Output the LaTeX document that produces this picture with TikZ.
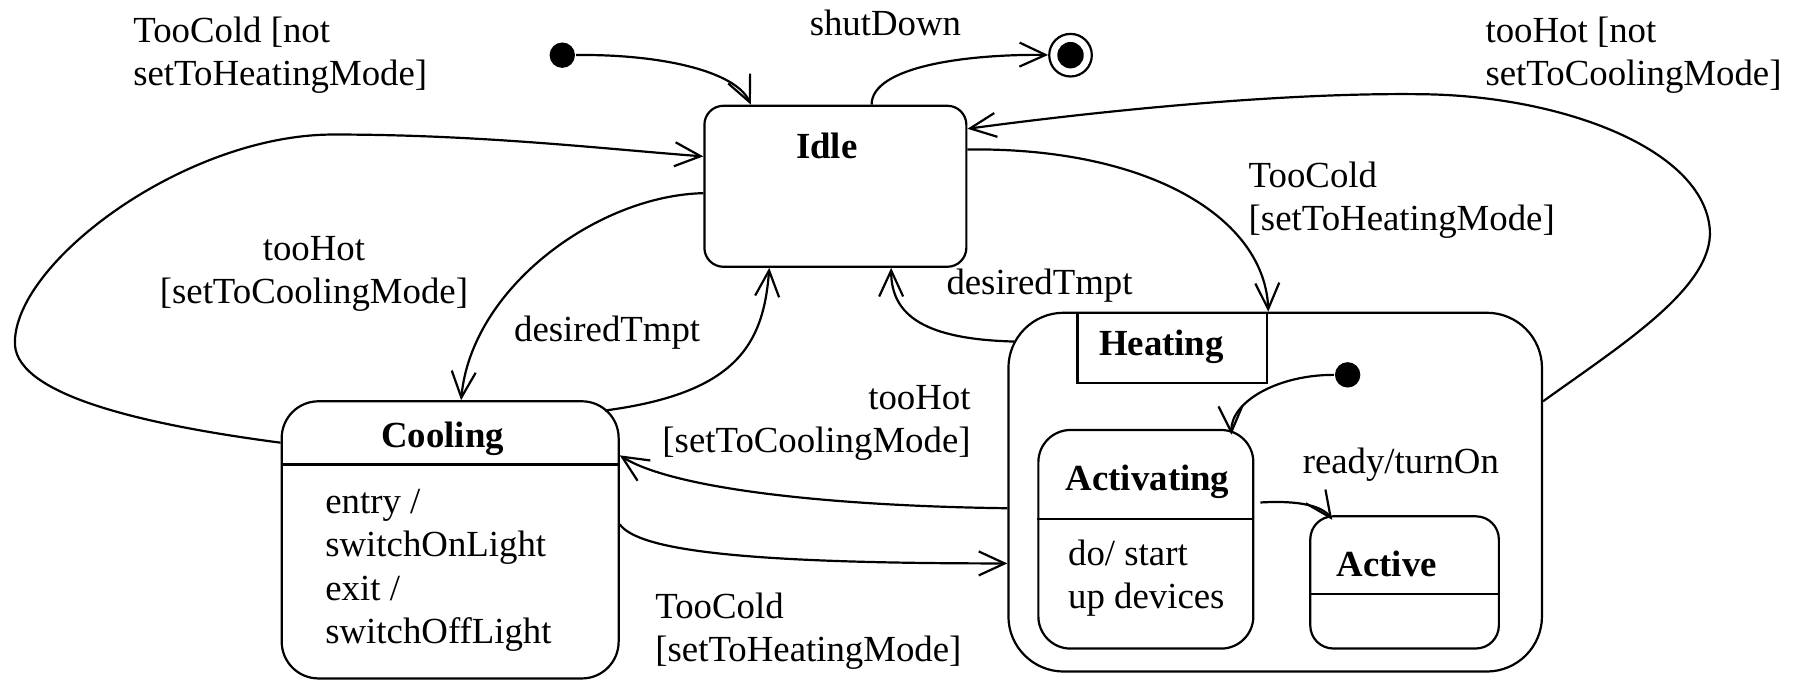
\documentclass[tikz,border=0pt]{standalone}
\usepackage{fontspec}
\setmainfont{Liberation Serif}
\usetikzlibrary{arrows.meta}

\begin{document}
\begin{tikzpicture}[x=0.575pt,y=-0.575pt,line width=1.1pt,
  every node/.style={font=\fontsize{18.4}{21.6}\selectfont,inner sep=0pt},
  statebox/.style={draw,rounded corners=#1},
  sname/.style={font=\fontsize{18.4}{21.6}\selectfont\bfseries},
  initdot/.style={circle,fill,minimum size=12.7pt},
  arr/.style={-{Straight Barb[length=13pt,width=12pt]}}]
\useasboundingbox (0,0) rectangle (1568,591);

\node[statebox=9.5pt,minimum width=131pt,minimum height=80.5pt] (idle) at (726.5,162) {};
\node[statebox=18.4pt,minimum width=168.5pt,minimum height=138.6pt] (cool) at (391.5,469.5) {};
\node[statebox=27.6pt,minimum width=266.8pt,minimum height=179.4pt] (heat) at (1109,428) {};
\node[draw,minimum width=94.9pt,minimum height=35.1pt] (tab) at (1019.5,302.5) {};
\node[statebox=16.1pt,minimum width=107.5pt,minimum height=109.3pt] (act) at (996.5,469) {};
\node[statebox=11.5pt,minimum width=94.3pt,minimum height=66.1pt] (actv) at (1221.5,506.5) {};
\draw (cool.west |- 0,404) -- (cool.east |- 0,404);
\draw (act.west |- 0,451.5) -- (act.east |- 0,451.5);
\draw (actv.west |- 0,516.5) -- (actv.east |- 0,516.5);

\node[initdot] (init) at (489,48) {};
\node[initdot] (init2) at (1172,326) {};
\node[circle,draw,minimum size=21.3pt] (fin) at (931,48) {};
\node[initdot,minimum size=13.2pt] (fincore) at (fin) {};

\node[sname] (idlename) at (719,127) {Idle};
\node[sname] (coolname) at (385,382) {Cooling};
\node[sname] (heatname) at (1010,302) {Heating};
\node[sname] (actname) at (998,419) {Activating};
\node[sname] (actvname) at (1206,490) {Active};
\node[anchor=west,align=left] (coolbody) at (282,496) {entry /\\switchOnLight\\exit /\\switchOffLight};
\node[anchor=west,align=left] (actbody) at (928,503) {do/ start\\up devices};

\node[anchor=west,align=left] (lblnotheat) at (115,48) {TooCold [not\\setToHeatingMode]};
\node (lblshut) at (770,20) {shutDown};
\node[align=center] (lblhotleft) at (273,238) {tooHot\\{[setToCoolingMode]}};
\node (lbldesleft) at (528,289) {desiredTmpt};
\node (lbldesright) at (904,248) {desiredTmpt};
\node[anchor=west,align=left] (lblcoldtop) at (1085,174) {TooCold\\{[setToHeatingMode]}};
\node[anchor=west,align=left] (lblnotcool) at (1291,48) {tooHot [not\\setToCoolingMode]};
\node[anchor=east,align=right] (lblhotmid) at (845,368) {tooHot\\{[setToCoolingMode]}};
\node[anchor=west,align=left] (lblcoldbot) at (569,549) {TooCold\\{[setToHeatingMode]}};
\node[anchor=west] (lblready) at (1132,404) {ready/turnOn};

\draw[arr] (init) .. controls (575,47) and (640,62) .. (idle.north -| 653,0);
\draw[arr] (idle.north -| 758,0) .. controls (758,58) and (840,47) .. (fin);
\draw[arr] (cool.west |- 0,385) .. controls (130,370) and (16,345) .. (13,300)
  .. controls (10,230) and (160,117) .. (290,117)
  .. controls (420,117) and (530,130) .. (idle.west |- 0,136);
\draw[arr] (idle.west |- 0,168) .. controls (520,170) and (410,250) .. (cool.north -| 401,0);
\draw[arr] ([shift={(-13,9)}]cool.north east) .. controls (640,342) and (664,300) .. (idle.south -| 669,0);
\draw[arr] ([shift={(6,26)}]heat.north west) .. controls (805,295) and (775,275) .. (idle.south -| 775,0);
\draw[arr] (idle.east |- 0,130) .. controls (1000,128) and (1100,190) .. (heat.north -| 1103,0);
\draw[arr] (heat.east |- 0,349) .. controls (1410,300) and (1490,250) .. (1487,200)
  .. controls (1482,130) and (1360,84) .. (1240,82)
  .. controls (1120,80) and (960,96) .. (idle.east |- 0,112);
\draw[arr] (heat.west |- 0,442) .. controls (720,440) and (585,425) .. (cool.east |- 0,396);
\draw[arr] (cool.east |- 0,456) .. controls (555,478) and (640,490) .. (heat.west |- 0,490);
\draw[arr] (init2) .. controls (1110,326) and (1070,350) .. ([shift={(-20,5)}]act.north east);
\draw[arr] ([xshift=3pt]act.east |- 0,437) .. controls (1130,435) and (1150,440) .. ([shift={(20,4)}]actv.north west);
\end{tikzpicture}
\end{document}
